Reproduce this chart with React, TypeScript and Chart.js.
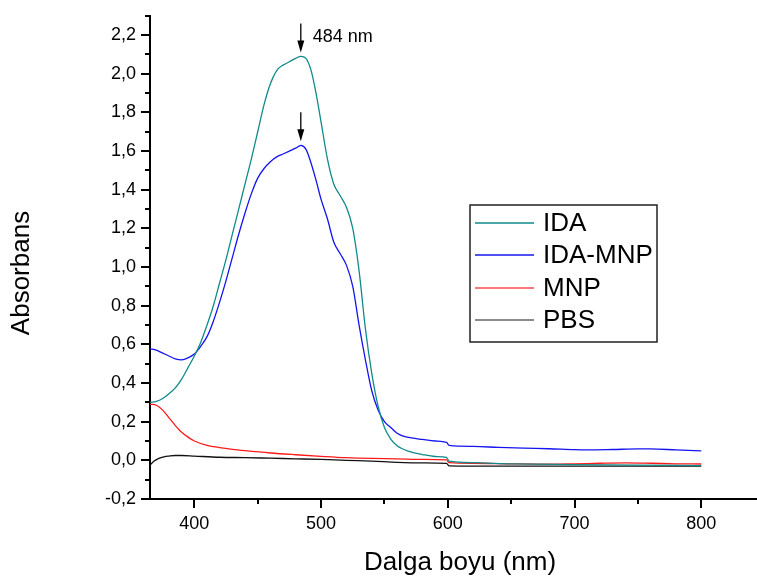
import React, { useEffect, useRef } from "react";
import { Chart, registerables } from "chart.js";

Chart.register(...registerables);

// ---- Data ----
const idaNm = [365, 370, 375, 380, 385, 390, 395, 400, 405, 410, 415, 420, 425, 430, 435, 440, 445, 450, 455, 459, 462, 466, 470, 475, 480, 484, 488, 492, 496, 500, 505, 510, 515, 520, 525, 530, 535, 540, 545, 550, 555, 560, 570, 580, 590, 599, 601, 620, 650, 700, 750, 800];
const idaAbs = [0.30, 0.305, 0.32, 0.345, 0.375, 0.42, 0.48, 0.54, 0.61, 0.70, 0.80, 0.92, 1.04, 1.17, 1.30, 1.43, 1.56, 1.70, 1.84, 1.93, 1.98, 2.025, 2.045, 2.062, 2.08, 2.09, 2.08, 2.02, 1.90, 1.75, 1.56, 1.43, 1.37, 1.31, 1.20, 0.98, 0.68, 0.45, 0.28, 0.17, 0.11, 0.075, 0.045, 0.03, 0.02, 0.015, -0.004, -0.012, -0.018, -0.022, -0.025, -0.027];

const idaMnpNm = [365, 370, 375, 380, 385, 390, 395, 400, 405, 410, 415, 420, 425, 430, 435, 440, 445, 450, 455, 460, 465, 470, 475, 480, 484, 488, 492, 496, 500, 505, 510, 515, 520, 525, 530, 535, 540, 545, 550, 555, 560, 565, 570, 580, 590, 599, 601, 620, 640, 660, 680, 700, 710, 730, 750, 760, 780, 800];
const idaMnpAbs = [0.577, 0.57, 0.555, 0.54, 0.525, 0.52, 0.53, 0.55, 0.59, 0.64, 0.72, 0.82, 0.93, 1.05, 1.17, 1.28, 1.38, 1.46, 1.51, 1.545, 1.57, 1.585, 1.60, 1.615, 1.63, 1.61, 1.54, 1.45, 1.35, 1.25, 1.13, 1.07, 1.01, 0.90, 0.70, 0.52, 0.36, 0.26, 0.20, 0.17, 0.14, 0.125, 0.117, 0.108, 0.10, 0.093, 0.077, 0.072, 0.067, 0.063, 0.06, 0.055, 0.054, 0.056, 0.059, 0.059, 0.054, 0.049];

const mnpNm = [365, 370, 375, 380, 385, 390, 395, 400, 410, 420, 430, 440, 460, 480, 500, 520, 540, 560, 580, 599, 601, 620, 650, 680, 700, 720, 740, 760, 780, 800];
const mnpAbs = [0.29, 0.285, 0.26, 0.22, 0.18, 0.145, 0.12, 0.10, 0.078, 0.066, 0.057, 0.05, 0.038, 0.029, 0.021, 0.014, 0.01, 0.008, 0.005, 0.002, -0.012, -0.015, -0.018, -0.02, -0.018, -0.015, -0.013, -0.015, -0.018, -0.019];

const pbsNm = [365, 368, 372, 376, 380, 385, 390, 400, 420, 440, 460, 480, 500, 520, 540, 560, 580, 599, 601, 620, 700, 800];
const pbsAbs = [-0.025, -0.005, 0.01, 0.018, 0.022, 0.025, 0.025, 0.022, 0.016, 0.014, 0.011, 0.008, 0.005, 0.0, -0.004, -0.01, -0.013, -0.016, -0.029, -0.03, -0.03, -0.03];

const seriesLabels = ["IDA", "IDA-MNP", "MNP", "PBS"];
const seriesColors = ["#118a8a", "#1414f0", "#ff1a1a", "#111111"];
const legendColors = ["#118a8a", "#1414f0", "#ff4a4a", "#666666"];

const xMajorTicks = [400, 500, 600, 700, 800];
const xMinorTicks = [450, 550, 650, 750];
const yMinorTicks = [-0.1, 0.1, 0.3, 0.5, 0.7, 0.9, 1.1, 1.3, 1.5, 1.7, 1.9, 2.1, 2.3];

const peakNm = 484;
const peakLabel = "484 nm";
const xTitle = "Dalga boyu (nm)";
const yTitle = "Absorbans";

const FONT = "'Liberation Sans', Arial, sans-serif";

function toPoints(xs: number[], ys: number[]) {
  return xs.map((x, i) => ({ x, y: ys[i] }));
}

function valueAt(xs: number[], ys: number[], x: number) {
  const i = xs.indexOf(x);
  return i >= 0 ? ys[i] : 0;
}

const decorPlugin = {
  id: "decor",
  afterDraw(chart: any) {
    const ctx: CanvasRenderingContext2D = chart.ctx;
    const xs = chart.scales.x;
    const ys = chart.scales.y;
    const area = chart.chartArea;
    ctx.save();

    // minor ticks
    ctx.strokeStyle = "#000";
    ctx.lineWidth = 2;
    for (const v of yMinorTicks) {
      const p = Math.round(ys.getPixelForValue(v));
      ctx.beginPath();
      ctx.moveTo(area.left - 5, p);
      ctx.lineTo(area.left, p);
      ctx.stroke();
    }
    for (const v of xMinorTicks) {
      const p = Math.round(xs.getPixelForValue(v));
      ctx.beginPath();
      ctx.moveTo(p, area.bottom);
      ctx.lineTo(p, area.bottom + 5);
      ctx.stroke();
    }

    // peak arrows
    const peaks = [valueAt(idaNm, idaAbs, peakNm), valueAt(idaMnpNm, idaMnpAbs, peakNm)];
    const px = xs.getPixelForValue(peakNm);
    ctx.strokeStyle = "#000";
    ctx.fillStyle = "#000";
    peaks.forEach((v, i) => {
      const py = ys.getPixelForValue(v);
      const tip = py - 4;
      const top = py - 33;
      ctx.lineWidth = 1.3;
      ctx.beginPath();
      ctx.moveTo(px, top);
      ctx.lineTo(px, tip - 8);
      ctx.stroke();
      ctx.beginPath();
      ctx.moveTo(px - 3.5, tip - 12);
      ctx.lineTo(px + 3.5, tip - 12);
      ctx.lineTo(px, tip);
      ctx.closePath();
      ctx.fill();
      if (i === 0) {
        ctx.font = `18px ${FONT}`;
        ctx.textAlign = "left";
        ctx.textBaseline = "middle";
        ctx.fillText(peakLabel, px + 12, py - 19);
      }
    });

    // legend
    const lx = 470, ly = 205, lw = 187, lh = 137;
    ctx.lineWidth = 1.5;
    ctx.strokeStyle = "#222";
    ctx.strokeRect(lx, ly, lw, lh);
    const rows = [223, 255, 288, 320];
    ctx.font = `26px ${FONT}`;
    ctx.textAlign = "left";
    ctx.textBaseline = "middle";
    seriesLabels.forEach((lab, i) => {
      ctx.strokeStyle = legendColors[i];
      ctx.lineWidth = 1.5;
      ctx.beginPath();
      ctx.moveTo(475, rows[i]);
      ctx.lineTo(534, rows[i]);
      ctx.stroke();
      ctx.fillStyle = "#000";
      ctx.fillText(lab, 543, rows[i] + 1);
    });

    // axis titles
    ctx.fillStyle = "#000";
    ctx.font = `26px ${FONT}`;
    ctx.textAlign = "center";
    ctx.textBaseline = "middle";
    ctx.fillText(xTitle, 460, 563);
    ctx.save();
    ctx.translate(22, 273);
    ctx.rotate(-Math.PI / 2);
    ctx.fillText(yTitle, 0, 0);
    ctx.restore();

    ctx.restore();
  },
};

export default function App() {
  const ref = useRef<HTMLCanvasElement | null>(null);
  useEffect(() => {
    if (!ref.current) return;
    const mk = (label: string, xs: number[], ys: number[], color: string) => ({
      label,
      data: toPoints(xs, ys),
      borderColor: color,
      backgroundColor: color,
      borderWidth: 1.3,
      pointRadius: 0,
      fill: false,
      cubicInterpolationMode: "monotone" as const,
    });
    const chart = new Chart(ref.current, {
      type: "line",
      data: {
        datasets: [
          mk(seriesLabels[0], idaNm, idaAbs, seriesColors[0]),
          mk(seriesLabels[1], idaMnpNm, idaMnpAbs, seriesColors[1]),
          mk(seriesLabels[2], mnpNm, mnpAbs, seriesColors[2]),
          mk(seriesLabels[3], pbsNm, pbsAbs, seriesColors[3]),
        ],
      },
      options: {
        animation: false,
        responsive: false,
        devicePixelRatio: 1,
        layout: { padding: { top: 4, right: 0, left: 0, bottom: 0 } },
        plugins: { legend: { display: false }, tooltip: { enabled: false } },
        scales: {
          x: {
            type: "linear",
            min: 365,
            max: 844,
            afterFit: (s: any) => { s.height = 86; },
            afterBuildTicks: (s: any) => { s.ticks = xMajorTicks.map((v) => ({ value: v })); },
            ticks: {
              color: "#000",
              font: { family: FONT, size: 18 },
              padding: 5,
              maxRotation: 0,
              callback: (v: any) => String(v),
            },
            grid: { drawOnChartArea: false, drawTicks: true, tickLength: 9, color: "#000", lineWidth: 2 },
            border: { display: true, color: "#000", width: 2 },
          },
          y: {
            type: "linear",
            min: -0.2,
            max: 2.3,
            afterFit: (s: any) => { s.width = 150; },
            ticks: {
              stepSize: 0.2,
              includeBounds: false,
              color: "#000",
              font: { family: FONT, size: 18 },
              padding: 5,
              callback: (v: any) => {
                const n = Number(v);
                if (Math.abs(n) < 1e-9) return "0,0";
                return n.toFixed(1).replace(".", ",");
              },
            },
            grid: { drawOnChartArea: false, drawTicks: true, tickLength: 9, color: "#000", lineWidth: 2 },
            border: { display: true, color: "#000", width: 2 },
          },
        },
      },
      plugins: [decorPlugin],
    } as any);
    return () => chart.destroy();
  }, []);
  return (
    <div style={{ position: "fixed", left: 0, top: 0, width: 757, height: 585, background: "#fff" }}>
      <canvas ref={ref} width={757} height={585} style={{ display: "block", width: 757, height: 585 }} />
    </div>
  );
}
